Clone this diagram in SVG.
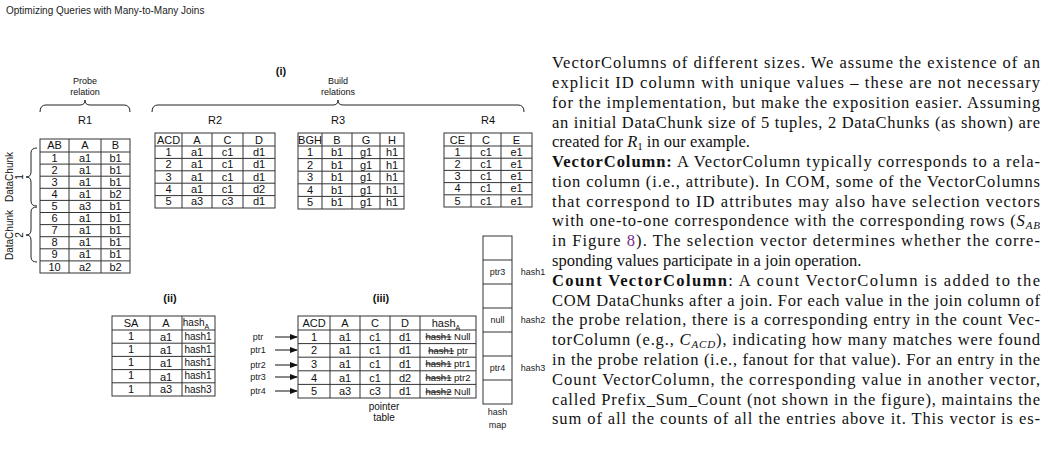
<svg xmlns="http://www.w3.org/2000/svg" width="1047" height="466" viewBox="0 0 1047 466">
<style>
.t{font-family:"Liberation Sans",Arial,sans-serif;font-size:11px;fill:#111;text-anchor:middle}
.s{font-family:"Liberation Sans",Arial,sans-serif;font-size:9px;fill:#222;text-anchor:middle}
.b{font-weight:bold}
.g{fill:none;stroke:#333;stroke-width:1}
.br{fill:none;stroke:#222;stroke-width:1}
.p{font-family:"Liberation Serif","Times New Roman",serif;font-size:16.5px;fill:#111}
.k{text-decoration:line-through}
</style>
<defs><marker id="ah" markerWidth="8" markerHeight="6" refX="7" refY="3" orient="auto"><path d="M0,0 L8,3 L0,6 Z" fill="#111"/></marker></defs>
<rect width="1047" height="466" fill="#fff"/>
<text x="6" y="14" style="font-family:'Liberation Sans',Arial,sans-serif;font-size:10px;fill:#222">Optimizing Queries with Many-to-Many Joins</text>

<g id="labels">
<text class="t" x="85" y="84" style="font-size:9px">Probe</text>
<text class="t" x="85" y="95" style="font-size:9px">relation</text>
<text class="t b" x="281" y="75">(i)</text>
<text class="t" x="338" y="84" style="font-size:9px">Build</text>
<text class="t" x="338" y="95" style="font-size:9px">relations</text>
<path class="br" d="M40,112 Q40,105 46,105 L80,105 Q85,105 85,100 Q85,105 90,105 L124,105 Q130,105 130,112"/>
<path class="br" d="M152,112 Q152,105 158,105 L333,105 Q338,105 338,100 Q338,105 343,105 L518,105 Q524,105 524,112"/>
<text class="t" x="85" y="124">R1</text>
<text class="t" x="215" y="124">R2</text>
<text class="t" x="338" y="124">R3</text>
<text class="t" x="488" y="124">R4</text>
<text class="t" transform="translate(13,177) rotate(-90)" style="font-size:10px">DataChunk</text>
<text class="t" transform="translate(23,177) rotate(-90)" style="font-size:10px">1</text>
<text class="t" transform="translate(13,235) rotate(-90)" style="font-size:10px">DataChunk</text>
<text class="t" transform="translate(23,235) rotate(-90)" style="font-size:10px">2</text>
<path class="br" d="M37,148 Q31,148 31,153 L31,172 Q31,177 26,177 Q31,177 31,182 L31,201 Q31,206 37,206"/>
<path class="br" d="M37,207 Q31,207 31,212 L31,230 Q31,235 26,235 Q31,235 31,240 L31,257 Q31,262 37,262"/>
<text class="t b" x="170" y="302">(ii)</text>
<text class="t b" x="381" y="302">(iii)</text>
<text class="t" x="384" y="410" style="font-size:10px">pointer</text>
<text class="t" x="384" y="421" style="font-size:10px">table</text>
</g>

<g id="R1">
<rect class="g" x="40" y="139" width="90" height="134"/>
<path class="g" d="M69,139V273M101,139V273M40,152H130M40,164.1H130M40,176.2H130M40,188.3H130M40,200.4H130M40,212.5H130M40,224.6H130M40,236.7H130M40,248.8H130M40,260.9H130"/>
<text class="t" x="54.5" y="149">AB</text><text class="t" x="85" y="149">A</text><text class="t" x="115.5" y="149">B</text>
<text class="t" x="54.5" y="162">1</text><text class="t" x="85" y="162">a1</text><text class="t" x="115.5" y="162">b1</text>
<text class="t" x="54.5" y="174">2</text><text class="t" x="85" y="174">a1</text><text class="t" x="115.5" y="174">b1</text>
<text class="t" x="54.5" y="186">3</text><text class="t" x="85" y="186">a1</text><text class="t" x="115.5" y="186">b1</text>
<text class="t" x="54.5" y="198">4</text><text class="t" x="85" y="198">a1</text><text class="t" x="115.5" y="198">b2</text>
<text class="t" x="54.5" y="210">5</text><text class="t" x="85" y="210">a3</text><text class="t" x="115.5" y="210">b1</text>
<text class="t" x="54.5" y="222">6</text><text class="t" x="85" y="222">a1</text><text class="t" x="115.5" y="222">b1</text>
<text class="t" x="54.5" y="234">7</text><text class="t" x="85" y="234">a1</text><text class="t" x="115.5" y="234">b1</text>
<text class="t" x="54.5" y="246">8</text><text class="t" x="85" y="246">a1</text><text class="t" x="115.5" y="246">b1</text>
<text class="t" x="54.5" y="258">9</text><text class="t" x="85" y="258">a1</text><text class="t" x="115.5" y="258">b1</text>
<text class="t" x="54.5" y="271">10</text><text class="t" x="85" y="271">a2</text><text class="t" x="115.5" y="271">b2</text>
</g>

<g id="R2">
<rect class="g" x="155" y="133" width="120" height="75"/>
<path class="g" d="M182,133V208M212,133V208M243,133V208M155,146H275M155,158.4H275M155,170.8H275M155,183.2H275M155,195.6H275"/>
<text class="t" x="168.5" y="144">ACD</text><text class="t" x="197" y="144">A</text><text class="t" x="227.5" y="144">C</text><text class="t" x="259" y="144">D</text>
<text class="t" x="168.5" y="156">1</text><text class="t" x="197" y="156">a1</text><text class="t" x="227.5" y="156">c1</text><text class="t" x="259" y="156">d1</text>
<text class="t" x="168.5" y="168">2</text><text class="t" x="197" y="168">a1</text><text class="t" x="227.5" y="168">c1</text><text class="t" x="259" y="168">d1</text>
<text class="t" x="168.5" y="181">3</text><text class="t" x="197" y="181">a1</text><text class="t" x="227.5" y="181">c1</text><text class="t" x="259" y="181">d1</text>
<text class="t" x="168.5" y="193">4</text><text class="t" x="197" y="193">a1</text><text class="t" x="227.5" y="193">c1</text><text class="t" x="259" y="193">d2</text>
<text class="t" x="168.5" y="205">5</text><text class="t" x="197" y="205">a3</text><text class="t" x="227.5" y="205">c3</text><text class="t" x="259" y="205">d1</text>
</g>

<g id="R3">
<rect class="g" x="298" y="133" width="106" height="76"/>
<path class="g" d="M322,133V209M352,133V209M380,133V209M298,146H404M298,158.6H404M298,171.2H404M298,183.8H404M298,196.4H404"/>
<text class="t" x="310" y="144">BGH</text><text class="t" x="337" y="144">B</text><text class="t" x="366" y="144">G</text><text class="t" x="392" y="144">H</text>
<text class="t" x="310" y="156">1</text><text class="t" x="337" y="156">b1</text><text class="t" x="366" y="156">g1</text><text class="t" x="392" y="156">h1</text>
<text class="t" x="310" y="169">2</text><text class="t" x="337" y="169">b1</text><text class="t" x="366" y="169">g1</text><text class="t" x="392" y="169">h1</text>
<text class="t" x="310" y="181">3</text><text class="t" x="337" y="181">b1</text><text class="t" x="366" y="181">g1</text><text class="t" x="392" y="181">h1</text>
<text class="t" x="310" y="194">4</text><text class="t" x="337" y="194">b1</text><text class="t" x="366" y="194">g1</text><text class="t" x="392" y="194">h1</text>
<text class="t" x="310" y="206">5</text><text class="t" x="337" y="206">b1</text><text class="t" x="366" y="206">g1</text><text class="t" x="392" y="206">h1</text>
</g>

<g id="R4">
<rect class="g" x="444" y="133" width="88" height="74"/>
<path class="g" d="M471,133V207M501,133V207M444,146H532M444,158.2H532M444,170.4H532M444,182.6H532M444,194.8H532"/>
<text class="t" x="457.5" y="144">CE</text><text class="t" x="486" y="144">C</text><text class="t" x="516.5" y="144">E</text>
<text class="t" x="457.5" y="156">1</text><text class="t" x="486" y="156">c1</text><text class="t" x="516.5" y="156">e1</text>
<text class="t" x="457.5" y="168">2</text><text class="t" x="486" y="168">c1</text><text class="t" x="516.5" y="168">e1</text>
<text class="t" x="457.5" y="180">3</text><text class="t" x="486" y="180">c1</text><text class="t" x="516.5" y="180">e1</text>
<text class="t" x="457.5" y="192">4</text><text class="t" x="486" y="192">c1</text><text class="t" x="516.5" y="192">e1</text>
<text class="t" x="457.5" y="205">5</text><text class="t" x="486" y="205">c1</text><text class="t" x="516.5" y="205">e1</text>
</g>

<g id="selection">
<rect class="g" x="112" y="316" width="103" height="80"/>
<path class="g" d="M150,316V396M182,316V396M112,330H215M112,343.2H215M112,356.4H215M112,369.6H215M112,382.8H215"/>
<text class="t" x="131" y="327">SA</text><text class="t" x="166" y="327">A</text><text class="t" x="196" y="326" style="font-size:10px">hash<tspan dy="3" style="font-size:7px">A</tspan></text>
<text class="t" x="131" y="340">1</text><text class="t" x="166" y="341">a1</text><text class="t" x="198" y="340" style="font-size:10px">hash1</text>
<text class="t" x="131" y="353">1</text><text class="t" x="166" y="354">a1</text><text class="t" x="198" y="353" style="font-size:10px">hash1</text>
<text class="t" x="131" y="366">1</text><text class="t" x="166" y="367">a1</text><text class="t" x="198" y="366" style="font-size:10px">hash1</text>
<text class="t" x="131" y="379">1</text><text class="t" x="166" y="381">a1</text><text class="t" x="198" y="379" style="font-size:10px">hash1</text>
<text class="t" x="131" y="393">1</text><text class="t" x="166" y="393">a3</text><text class="t" x="198" y="393" style="font-size:10px">hash3</text>
</g>

<g id="pointer-table">
<rect class="g" x="298" y="316" width="178" height="82"/>
<path class="g" d="M330,316V398M360,316V398M390,316V398M420,316V398M298,330H476M298,343.6H476M298,357.2H476M298,370.8H476M298,384.4H476"/>
<text class="t" x="314" y="327">ACD</text><text class="t" x="345" y="327">A</text><text class="t" x="375" y="327">C</text><text class="t" x="405" y="327">D</text><text class="t" x="446" y="327">hash<tspan dy="3" style="font-size:7px">A</tspan></text>
<text class="t" x="314" y="341">1</text><text class="t" x="345" y="341">a1</text><text class="t" x="375" y="341">c1</text><text class="t" x="405" y="341">d1</text>
<text class="t" x="314" y="354">2</text><text class="t" x="345" y="354">a1</text><text class="t" x="375" y="354">c1</text><text class="t" x="405" y="354">d1</text>
<text class="t" x="314" y="368">3</text><text class="t" x="345" y="368">a1</text><text class="t" x="375" y="368">c1</text><text class="t" x="405" y="368">d1</text>
<text class="t" x="314" y="382">4</text><text class="t" x="345" y="382">a1</text><text class="t" x="375" y="382">c1</text><text class="t" x="405" y="382">d2</text>
<text class="t" x="314" y="395">5</text><text class="t" x="345" y="395">a3</text><text class="t" x="375" y="395">c3</text><text class="t" x="405" y="395">d1</text>
<text class="t" x="448" y="340" style="font-size:9.5px"><tspan class="k">hash1</tspan> Null</text>
<text class="t" x="448" y="354" style="font-size:9.5px"><tspan class="k">hash1</tspan> ptr</text>
<text class="t" x="448" y="367" style="font-size:9.5px"><tspan class="k">hash1</tspan> ptr1</text>
<text class="t" x="448" y="381" style="font-size:9.5px"><tspan class="k">hash1</tspan> ptr2</text>
<text class="t" x="448" y="395" style="font-size:9.5px"><tspan class="k">hash2</tspan> Null</text>
<text class="s" x="258" y="340">ptr</text>
<text class="s" x="258" y="353">ptr1</text>
<text class="s" x="258" y="368">ptr2</text>
<text class="s" x="258" y="380">ptr3</text>
<text class="s" x="258" y="394">ptr4</text>
</g>

<g id="hash-map">
<rect class="g" x="483" y="236" width="29" height="168"/>
<path class="g" d="M483,260H512M483,284H512M483,308H512M483,332H512M483,356H512M483,380H512"/>
<text class="s" x="497.5" y="275">ptr3</text>
<text class="s" x="497.5" y="323">null</text>
<text class="s" x="497.5" y="371">ptr4</text>
<text class="s" x="533" y="275">hash1</text>
<text class="s" x="533" y="323">hash2</text>
<text class="s" x="533" y="371">hash3</text>
<text class="s" x="497.5" y="415">hash</text>
<text class="s" x="497.5" y="428">map</text>
</g>

<g id="connectors" stroke="#111" stroke-width="1" marker-end="url(#ah)">
<line x1="275" y1="337" x2="297" y2="337"/>
<line x1="275" y1="350" x2="297" y2="350"/>
<line x1="275" y1="365" x2="297" y2="365"/>
<line x1="275" y1="377" x2="297" y2="377"/>
<line x1="275" y1="391" x2="297" y2="391"/>
</g>

<g id="body-text">
<text class="p" x="552" y="68" textLength="488" lengthAdjust="spacing">VectorColumns of different sizes. We assume the existence of an</text>
<text class="p" x="552" y="88" textLength="488" lengthAdjust="spacing">explicit ID column with unique values – these are not necessary</text>
<text class="p" x="552" y="108" textLength="488" lengthAdjust="spacing">for the implementation, but make the exposition easier. Assuming</text>
<text class="p" x="552" y="128" textLength="488" lengthAdjust="spacing">an initial DataChunk size of 5 tuples, 2 DataChunks (as shown) are</text>
<text class="p" x="552" y="147">created for <tspan font-style="italic">R</tspan><tspan font-size="11px" dy="3">1</tspan><tspan dy="-3"> in our example.</tspan></text>
<text class="p" x="552" y="167" textLength="488" lengthAdjust="spacing"><tspan font-weight="bold">VectorColumn:</tspan> A VectorColumn typically corresponds to a rela-</text>
<text class="p" x="552" y="187" textLength="488" lengthAdjust="spacing">tion column (i.e., attribute). In COM, some of the VectorColumns</text>
<text class="p" x="552" y="207" textLength="488" lengthAdjust="spacing">that correspond to ID attributes may also have selection vectors</text>
<text class="p" x="552" y="226" textLength="488" lengthAdjust="spacing">with one-to-one correspondence with the corresponding rows (<tspan font-style="italic">S</tspan><tspan font-style="italic" font-size="11px" dy="3">AB</tspan></text>
<text class="p" x="552" y="246" textLength="488" lengthAdjust="spacing">in Figure <tspan fill="#7a2a8a">8</tspan>). The selection vector determines whether the corre-</text>
<text class="p" x="552" y="266">sponding values participate in a join operation.</text>
<text class="p" x="552" y="286" textLength="488" lengthAdjust="spacing"><tspan font-weight="bold">Count VectorColumn</tspan>: A count VectorColumn is added to the</text>
<text class="p" x="552" y="306" textLength="488" lengthAdjust="spacing">COM DataChunks after a join. For each value in the join column of</text>
<text class="p" x="552" y="325" textLength="488" lengthAdjust="spacing">the probe relation, there is a corresponding entry in the count Vec-</text>
<text class="p" x="552" y="345" textLength="488" lengthAdjust="spacing">torColumn (e.g., <tspan font-style="italic">C</tspan><tspan font-style="italic" font-size="11px" dy="3">ACD</tspan><tspan dy="-3">), indicating how many matches were found</tspan></text>
<text class="p" x="552" y="365" textLength="488" lengthAdjust="spacing">in the probe relation (i.e., fanout for that value). For an entry in the</text>
<text class="p" x="552" y="385" textLength="488" lengthAdjust="spacing">Count VectorColumn, the corresponding value in another vector,</text>
<text class="p" x="552" y="405" textLength="488" lengthAdjust="spacing">called Prefix_Sum_Count (not shown in the figure), maintains the</text>
<text class="p" x="552" y="424" textLength="488" lengthAdjust="spacing">sum of all the counts of all the entries above it. This vector is es-</text>
</g>
</svg>
